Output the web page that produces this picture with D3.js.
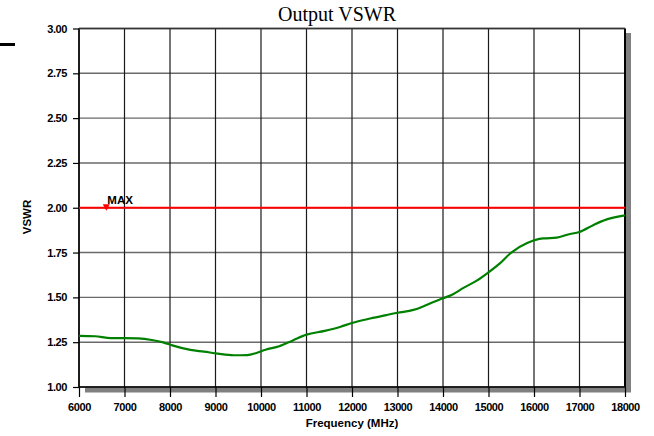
<!DOCTYPE html>
<html><head><meta charset="utf-8">
<script src="https://cdn.jsdelivr.net/npm/d3@7"></script>
<style>body{margin:0;background:#fff}svg{display:block}</style>
</head><body>
<script>
const freqs = [6000,6350,6700,7000,7300,7600,7850,8050,8450,8750,9050,9400,9700,9900,10100,10400,10700,11000,11400,11750,12000,12400,12750,13000,13350,13550,13750,14000,14200,14450,14750,15000,15250,15500,15850,16200,16500,16750,17000,17300,17600,18000];
const vswr = [1.285,1.283,1.273,1.273,1.271,1.262,1.249,1.232,1.207,1.197,1.186,1.177,1.178,1.19,1.208,1.227,1.26,1.292,1.313,1.336,1.357,1.382,1.401,1.414,1.43,1.448,1.47,1.495,1.515,1.553,1.595,1.64,1.69,1.75,1.803,1.829,1.833,1.851,1.865,1.903,1.935,1.957];
const maxLimit = 2.0;
const maxMarkerFreq = 6600;
const xTicks = [6000,7000,8000,9000,10000,11000,12000,13000,14000,15000,16000,17000,18000];
const yTicks = [1.00,1.25,1.50,1.75,2.00,2.25,2.50,2.75,3.00];
const title = "Output VSWR";
const xLabel = "Frequency (MHz)";
const yLabel = "VSWR";

const W = 654, H = 436;
const L = 79, R = 625, T = 28.5, B = 387;
const svg = d3.select("body").append("svg").attr("width", W).attr("height", H);
const x = d3.scaleLinear().domain([6000, 18000]).range([L, R]);
const y = d3.scaleLinear().domain([1, 3]).range([B, T]);

// shadow
svg.append("rect").attr("x", L + 6).attr("y", T + 4.5).attr("width", R - L).attr("height", B - T + 1)
  .attr("fill", "#808080");
svg.append("rect").attr("x", L).attr("y", T).attr("width", R - L).attr("height", B - T).attr("fill", "#fff");

// decoration dash
svg.append("line").attr("x1", 0).attr("x2", 15).attr("y1", 44.5).attr("y2", 44.5)
  .attr("stroke", "#000").attr("stroke-width", 3);

// gridlines
svg.append("g").selectAll("line").data(yTicks).join("line")
  .attr("x1", L).attr("x2", R).attr("y1", d => y(d)).attr("y2", d => y(d))
  .attr("stroke", "#6a6a6a").attr("stroke-width", 1.4);
svg.append("g").selectAll("line").data(xTicks).join("line")
  .attr("x1", d => x(d)).attr("x2", d => x(d)).attr("y1", T).attr("y2", B)
  .attr("stroke", "#1a1a1a").attr("stroke-width", 1.2);

// axes
const xAxis = d3.axisBottom(x).tickValues(xTicks).tickSize(10).tickPadding(6).tickFormat(d3.format("d"));
const gx = svg.append("g").attr("transform", `translate(0,${B})`).call(xAxis);
gx.select(".domain").remove();
gx.selectAll("line").attr("stroke", "#000").attr("stroke-width", 1.2);
gx.selectAll("text").attr("font-family", "Liberation Sans, Arial, sans-serif").attr("font-weight", "bold")
  .attr("font-size", 11).attr("fill", "#000").attr("letter-spacing", -0.4);

const yAxis = d3.axisLeft(y).tickValues(yTicks).tickSize(6).tickPadding(6).tickFormat(d3.format(".2f"));
const gy = svg.append("g").attr("transform", `translate(${L},0)`).call(yAxis);
gy.select(".domain").remove();
gy.selectAll("line").attr("stroke", "#000").attr("stroke-width", 1.2);
gy.selectAll("text").attr("font-family", "Liberation Sans, Arial, sans-serif").attr("font-weight", "bold")
  .attr("font-size", 11).attr("fill", "#000").attr("letter-spacing", -0.4);

// border
svg.append("line").attr("x1", L).attr("x2", L).attr("y1", T).attr("y2", B).attr("stroke", "#000").attr("stroke-width", 1.5);
svg.append("line").attr("x1", R).attr("x2", R).attr("y1", T).attr("y2", B).attr("stroke", "#000").attr("stroke-width", 2);
svg.append("line").attr("x1", L).attr("x2", R).attr("y1", B).attr("y2", B).attr("stroke", "#000").attr("stroke-width", 1.5);
svg.append("line").attr("x1", L).attr("x2", R).attr("y1", T).attr("y2", T).attr("stroke", "#333").attr("stroke-width", 1.5);

// MAX line
svg.append("line").attr("x1", L).attr("x2", R).attr("y1", y(maxLimit)).attr("y2", y(maxLimit))
  .attr("stroke", "#ff0000").attr("stroke-width", 2);
const mx = x(maxMarkerFreq), my = y(maxLimit);
svg.append("path").attr("d", `M${mx-3.5},${my-3.5}L${mx+3.5},${my-3.5}L${mx},${my+3}Z`).attr("fill", "#ff0000");
svg.append("text").attr("x", mx + 1).attr("y", my - 3.5).text("MAX")
  .attr("font-family", "Liberation Sans, Arial, sans-serif").attr("font-weight", "bold").attr("font-size", 11.5).attr("fill", "#000");

// data line
const line = d3.line().x((d, i) => x(freqs[i])).y(d => y(d)).curve(d3.curveMonotoneX);
svg.append("path").datum(vswr).attr("d", line).attr("fill", "none").attr("stroke", "#008000").attr("stroke-width", 2.2);

// titles
svg.append("text").attr("x", (L + R) / 2 - 15).attr("y", 20.5).attr("text-anchor", "middle").text(title)
  .attr("font-family", "Liberation Serif, Times New Roman, serif").attr("font-size", 20).attr("fill", "#000");
svg.append("text").attr("x", (L + R) / 2).attr("y", 427).attr("text-anchor", "middle").text(xLabel)
  .attr("font-family", "Liberation Sans, Arial, sans-serif").attr("font-weight", "bold").attr("font-size", 11.5).attr("fill", "#000");
svg.append("text").attr("transform", `translate(30.5,217) rotate(-90)`).attr("text-anchor", "middle").text(yLabel)
  .attr("font-family", "Liberation Sans, Arial, sans-serif").attr("font-weight", "bold").attr("font-size", 11.5).attr("fill", "#000");
</script>
</body></html>
